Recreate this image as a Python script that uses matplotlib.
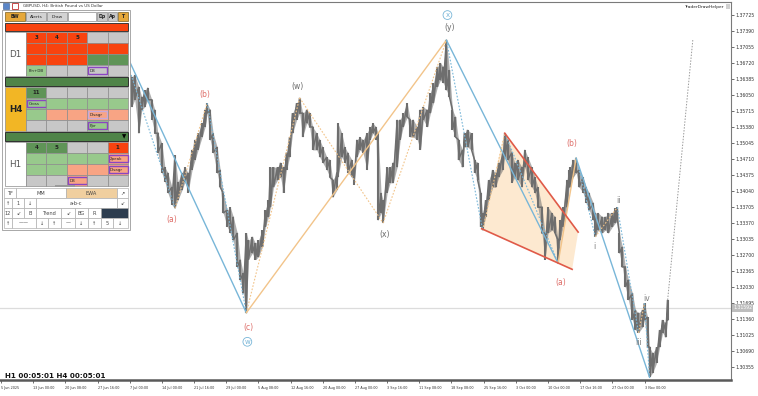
import matplotlib
matplotlib.use("Agg")
import matplotlib.pyplot as plt
from matplotlib.patches import Rectangle, Polygon

# GBPUSD H4 bars: bar index, high, low
bars = [116, 118, 123, 126, 130, 133, 137, 140, 143, 146, 150, 153, 156, 160, 163, 166, 170, 173, 176, 180,
        183, 186, 190, 193, 196, 200, 203, 205, 208, 211, 215, 218, 221, 225, 228, 231, 235, 238, 241, 244,
        246, 250, 253, 256, 260, 263, 266, 268, 271, 275, 278, 281, 284, 287, 290, 294, 297, 300, 304, 307,
        310, 314, 317, 320, 324, 327, 330, 334, 335, 339, 342, 345, 349, 351, 354, 357, 360, 364, 367, 370,
        373, 375, 378, 380, 384, 387, 390, 394, 397, 400, 404, 407, 410, 414, 417, 420, 424, 427, 430, 434,
        437, 440, 443, 446, 449, 452, 455, 459, 461, 464, 468, 471, 474, 477, 479, 482, 485, 489, 492, 495,
        499, 501, 504, 508, 511, 514, 518, 521, 524, 528, 531, 534, 538, 541, 544, 548, 551, 554, 556, 559,
        563, 565, 566, 569, 572, 575, 579, 582, 585, 589, 591, 594, 598, 601, 604, 608, 611, 613, 615, 618,
        621, 624, 628, 631, 634, 638, 640, 643, 645, 648, 652, 655, 658, 661, 663]
highs = [1.3716, 1.3720, 1.3678, 1.3657, 1.3643, 1.3647, 1.3622, 1.3601, 1.3615, 1.3620, 1.3595, 1.3574, 1.3525, 1.3504, 1.3454, 1.3442, 1.3412, 1.3479, 1.3423, 1.3442,
         1.3454, 1.3442, 1.3490, 1.3511, 1.3525, 1.3546, 1.3574, 1.3588, 1.3574, 1.3525, 1.3496, 1.3448, 1.3400, 1.3364, 1.3370, 1.3350, 1.3316, 1.3260, 1.3232, 1.3316,
         1.3301, 1.3308, 1.3295, 1.3301, 1.3322, 1.3364, 1.3385, 1.3454, 1.3454, 1.3454, 1.3463, 1.3454, 1.3484, 1.3517, 1.3567, 1.3588, 1.3599, 1.3567, 1.3574, 1.3567,
         1.3538, 1.3525, 1.3511, 1.3496, 1.3475, 1.3469, 1.3427, 1.3442, 1.3546, 1.3525, 1.3496, 1.3484, 1.3469, 1.3454, 1.3511, 1.3517, 1.3511, 1.3525, 1.3538, 1.3546,
         1.3538, 1.3525, 1.3400, 1.3385, 1.3454, 1.3454, 1.3463, 1.3553, 1.3553, 1.3567, 1.3588, 1.3553, 1.3553, 1.3538, 1.3574, 1.3580, 1.3574, 1.3609, 1.3630, 1.3664,
         1.3672, 1.3664, 1.3720, 1.3657, 1.3574, 1.3559, 1.3511, 1.3490, 1.3525, 1.3532, 1.3525, 1.3469, 1.3463, 1.3400, 1.3358, 1.3385, 1.3427, 1.3448, 1.3442, 1.3463,
         1.3484, 1.3525, 1.3511, 1.3484, 1.3463, 1.3469, 1.3454, 1.3490, 1.3475, 1.3454, 1.3433, 1.3412, 1.3370, 1.3316, 1.3370, 1.3358, 1.3350, 1.3301, 1.3343, 1.3370,
         1.3427, 1.3448, 1.3454, 1.3469, 1.3473, 1.3448, 1.3433, 1.3412, 1.3400, 1.3379, 1.3358, 1.3358, 1.3350, 1.3350, 1.3358, 1.3358, 1.3368, 1.3370, 1.3316, 1.3287,
         1.3245, 1.3218, 1.3190, 1.3155, 1.3149, 1.3155, 1.3169, 1.3140, 1.3077, 1.3065, 1.3077, 1.3113, 1.3134, 1.3128, 1.3176]
lows = [1.3636, 1.3626, 1.3595, 1.3584, 1.3580, 1.3595, 1.3525, 1.3574, 1.3580, 1.3595, 1.3553, 1.3525, 1.3484, 1.3442, 1.3423, 1.3400, 1.3375, 1.3368, 1.3385, 1.3406,
        1.3423, 1.3400, 1.3448, 1.3469, 1.3490, 1.3517, 1.3538, 1.3567, 1.3511, 1.3484, 1.3442, 1.3412, 1.3358, 1.3329, 1.3316, 1.3301, 1.3245, 1.3218, 1.3190, 1.3149,
        1.3260, 1.3274, 1.3260, 1.3266, 1.3287, 1.3329, 1.3350, 1.3370, 1.3412, 1.3427, 1.3433, 1.3400, 1.3448, 1.3475, 1.3525, 1.3553, 1.3567, 1.3517, 1.3546, 1.3538,
        1.3490, 1.3490, 1.3475, 1.3463, 1.3448, 1.3433, 1.3391, 1.3406, 1.3433, 1.3475, 1.3463, 1.3442, 1.3433, 1.3417, 1.3475, 1.3490, 1.3484, 1.3448, 1.3511, 1.3525,
        1.3511, 1.3343, 1.3358, 1.3337, 1.3400, 1.3421, 1.3421, 1.3454, 1.3511, 1.3538, 1.3559, 1.3517, 1.3517, 1.3511, 1.3490, 1.3553, 1.3538, 1.3567, 1.3588, 1.3622,
        1.3636, 1.3630, 1.3615, 1.3601, 1.3532, 1.3517, 1.3469, 1.3454, 1.3496, 1.3496, 1.3490, 1.3442, 1.3427, 1.3329, 1.3322, 1.3350, 1.3385, 1.3412, 1.3412, 1.3433,
        1.3448, 1.3475, 1.3469, 1.3421, 1.3433, 1.3427, 1.3412, 1.3454, 1.3427, 1.3412, 1.3400, 1.3370, 1.3316, 1.3260, 1.3316, 1.3322, 1.3316, 1.3253, 1.3301, 1.3329,
        1.3370, 1.3412, 1.3412, 1.3433, 1.3442, 1.3412, 1.3400, 1.3379, 1.3364, 1.3343, 1.3308, 1.3322, 1.3316, 1.3322, 1.3316, 1.3329, 1.3337, 1.3343, 1.3274, 1.3245,
        1.3203, 1.3176, 1.3134, 1.3113, 1.3107, 1.3119, 1.3134, 1.3077, 1.3015, 1.3023, 1.3044, 1.3077, 1.3107, 1.3098, 1.3134]
last_close = 1.31592

price_ticks = [1.37725, 1.37390, 1.37055, 1.36720, 1.36385, 1.36050, 1.35715, 1.35380, 1.35045, 1.34710, 1.34375,
               1.34040, 1.33705, 1.33370, 1.33035, 1.32700, 1.32365, 1.32030, 1.31695, 1.31360, 1.31025, 1.30690, 1.30355]
date_ticks = [0, 32, 64, 96, 128, 160, 192, 224, 256, 288, 320, 352, 384, 416, 448, 480, 512, 544, 576, 608, 640]
date_labels = ["5 Jun 2025", "13 Jun 00:00", "20 Jun 08:00", "27 Jun 16:00", "7 Jul 00:00", "14 Jul 00:00",
               "21 Jul 16:00", "29 Jul 00:00", "5 Aug 08:00", "12 Aug 16:00", "20 Aug 00:00", "27 Aug 00:00",
               "3 Sep 16:00", "11 Sep 08:00", "18 Sep 08:00", "25 Sep 16:00", "3 Oct 00:00", "10 Oct 00:00",
               "17 Oct 16:00", "27 Oct 00:00", "3 Nov 00:00"]

# wave pivots
pivot_bars = [118, 173, 205, 244, 297, 380, 443, 479, 501, 554, 572, 591, 613, 634, 640, 645]
pivot_prices = [1.3720, 1.3368, 1.3588, 1.3149, 1.3599, 1.3337, 1.3720, 1.3322, 1.3525, 1.3253,
                1.3473, 1.3308, 1.3370, 1.3107, 1.3169, 1.3014]
major_legs = [(0, 3, "b"), (3, 6, "t"), (6, 9, "b"), (9, 10, "t"), (10, 15, "b")]
minor_legs = [(0, 1, "b"), (1, 2, "t"), (2, 3, "b"), (3, 4, "t"), (4, 5, "t"), (5, 6, "t"), (6, 7, "b"),
              (7, 8, "t"), (8, 9, "b"), (10, 11, "b"), (11, 12, "t"), (12, 13, "b"), (13, 14, "t"), (14, 15, "b")]
# (pivot, text, colour key, dx px, dy px)
wave_labels = [(1, "(a)", "r", -3, -11), (2, "(b)", "r", -2, 9), (3, "(c)", "r", 2, -15), (4, "(w)", "g", -2, 11),
               (5, "(x)", "g", 2, -11), (6, "(y)", "g", 3, 13), (9, "(a)", "r", 3, -19), (10, "(b)", "r", -4, 15),
               (11, "i", "l", -1, -10), (12, "ii", "l", 1, 7), (13, "iii", "l", 0, -10), (14, "iv", "l", 2, 5)]
circled = [(3, "w", -29), (6, "x", 25)]
projection_bars = [663, 688]
projection_prices = [1.3176, 1.3720]

# falling wedge
wedge_upper = [(501, 1.3525), (574, 1.3318)]
wedge_lower = [(478, 1.3325), (568, 1.3240)]

BLUE = "#78b6d8"
TAN = "#f2c48a"
PRICE = "#6e6e6e"
colours = {"b": BLUE, "t": TAN, "r": "#de6e69", "g": "#6a6a6a", "l": "#7d7d7d"}

fig = plt.figure(figsize=(7.58, 3.96), dpi=100)
ax = fig.add_axes([0, 16 / 396, 731 / 758, 378 / 396])
ax.set_xlim(-1, 726)
ax.set_ylim(1.30083, 1.37997)

poly = [wedge_lower[0], wedge_upper[0], wedge_upper[1], wedge_lower[1]]
ax.add_patch(Polygon(poly, closed=True, fc="#fde9d0", ec="none", zorder=1))
ax.plot(*zip(*wedge_upper), color="#e05a48", lw=1.2, zorder=4)
ax.plot(*zip(*wedge_lower), color="#e05a48", lw=1.2, zorder=4)

ax.axhline(last_close, color="#dcdcdc", lw=0.9, zorder=1)

# each bar drawn high -> low, then on to the next high: gives the dense bar texture
path_x, path_y = [], []
for b, h, l in zip(bars, highs, lows):
    path_x += [b, b]
    path_y += [h, l]
ax.fill_between(bars, lows, highs, color=PRICE, alpha=0.55, lw=0, zorder=2)
ax.plot(path_x, path_y, color=PRICE, lw=1.1, zorder=2, solid_joinstyle="miter")
ax.vlines(bars, lows, highs, color=PRICE, lw=1.5, zorder=2)

for i, j, c in major_legs:
    ax.plot([pivot_bars[i], pivot_bars[j]], [pivot_prices[i], pivot_prices[j]],
            color=colours[c], lw=1.0, zorder=3)
for i, j, c in minor_legs:
    ax.plot([pivot_bars[i], pivot_bars[j]], [pivot_prices[i], pivot_prices[j]],
            color=colours[c], lw=0.8, ls=(0, (1.5, 1.5)), zorder=3)
ax.plot(projection_bars, projection_prices, color="#9a9a9a", lw=0.7, ls=(0, (1.5, 1.5)), zorder=3)

for p, txt, c, dx, dy in wave_labels:
    ax.annotate(txt, (pivot_bars[p], pivot_prices[p]), xytext=(dx, dy), textcoords="offset pixels",
                ha="center", va="center", fontsize=5.5, color=colours[c], zorder=5)
for p, txt, dy in circled:
    ax.annotate(txt, (pivot_bars[p], pivot_prices[p]), xytext=(1, dy), textcoords="offset pixels",
                ha="center", va="center", fontsize=5, color=BLUE, zorder=5,
                bbox=dict(boxstyle="circle,pad=0.2", fc="white", ec=BLUE, lw=0.6))

# axes styling
ax.yaxis.tick_right()
ax.set_yticks(price_ticks)
ax.set_yticklabels(["%.5f" % v for v in price_ticks])
ax.set_xticks(date_ticks)
ax.set_xticklabels(date_labels)
for lbl in ax.get_xticklabels():
    lbl.set_ha("left")
ax.tick_params(axis="y", length=2, width=0.5, pad=1, labelsize=3.3, colors="#333333")
ax.tick_params(axis="x", length=2, width=0.5, pad=2, labelsize=2.4, colors="#333333")
for side in ["top", "right"]:
    ax.spines[side].set_color("#7a7a7a")
    ax.spines[side].set_linewidth(0.8)
ax.spines["bottom"].set_color("#5a5a5a")
ax.spines["bottom"].set_linewidth(1.8)
ax.spines["left"].set_visible(False)

# last price tag on the scale
ax.annotate("%.5f" % last_close, (1.0, last_close), xycoords=("axes fraction", "data"),
            xytext=(2, 0), textcoords="offset pixels", ha="left", va="center",
            fontsize=3.3, color="white", annotation_clip=False,
            bbox=dict(boxstyle="square,pad=0.25", fc="#bdbdbd", ec="none"))

# overlay in screen pixels for the terminal panel
ov = fig.add_axes([0, 0, 1, 1], zorder=10)
ov.set_xlim(0, 758)
ov.set_ylim(396, 0)
ov.axis("off")
ov.patch.set_alpha(0)


def cell(x0, y0, x1, y1, fc, text="", tc="#222222", fs=3.2, bold=False, ec="#8c8c8c", lw=0.5):
    ov.add_patch(Rectangle((x0, y0), x1 - x0, y1 - y0, fc=fc, ec=ec, lw=lw))
    if text:
        ov.text((x0 + x1) / 2, (y0 + y1) / 2 + 0.3, text, ha="center", va="center", fontsize=fs,
                color=tc, fontweight="bold" if bold else "normal")


RED = "#f8430f"
GRY = "#c7c7c7"
DGR = "#5f9457"
LGR = "#98c98c"
SAL = "#f8a484"
PUR = "#8b45c2"
HDR = "#4f8448"

# title line
ov.add_patch(Rectangle((3, 3), 6, 6, fc="#5a86c8", ec="#3a5a90", lw=0.4))
ov.add_patch(Rectangle((12, 3), 6, 6, fc="#ffffff", ec="#c03030", lw=0.6))
ov.text(23, 6.3, "GBPUSD, H4: British Pound vs US Dollar", fontsize=2.9, color="#333333", va="center")
ov.text(724, 7, "TraderDrawHelper", fontsize=3.2, color="#222222", va="center", ha="right")
ov.add_patch(Rectangle((726, 4), 4, 5, fc="#d0d0d0", ec="none"))

# panel frame
ov.add_patch(Rectangle((2, 10), 128, 220, fc="white", ec="#9a9a9a", lw=0.6))

# buttons
cell(5, 12, 25, 20.5, "#e6a83a", "BW", bold=True, fs=3.4, ec="#7a6020")
cell(26, 12, 46, 20.5, "#d3d3d3", "Alerts", fs=3.2)
cell(47, 12, 67, 20.5, "#d3d3d3", "Draw", fs=3.2)
cell(68, 12, 96, 20.5, "white")
cell(97, 12, 107, 20.5, "#c8c8c8", "Dp", bold=True, fs=3.4)
cell(108, 12, 117, 20.5, "#c8c8c8", "Ap", bold=True, fs=3.4)
cell(118, 12, 128, 20.5, "#e6a83a", "T", bold=True, fs=3.4, ec="#7a6020")

cols = [26, 46.4, 66.8, 87.2, 107.6, 128]

# (fill, text, purple frame)
d1_grid = [
    [(RED, "3", 0), (RED, "4", 0), (RED, "5", 0), (GRY, "", 0), (GRY, "", 0)],
    [(RED, "", 0), (RED, "", 0), (RED, "", 0), (RED, "", 0), (RED, "", 0)],
    [(RED, "", 0), (RED, "", 0), (RED, "", 0), (DGR, "", 0), (DGR, "", 0)],
    [(LGR, "Pin+DB", 0), (GRY, "", 0), (GRY, "", 0), (GRY, "DB", 1), (GRY, "", 0)],
]
h4_grid = [
    [(DGR, "11", 0), (GRY, "", 0), (GRY, "", 0), (GRY, "", 0), (GRY, "", 0)],
    [(LGR, "Cross", 1), (LGR, "", 0), (LGR, "", 0), (LGR, "", 0), (LGR, "", 0)],
    [(LGR, "", 0), (SAL, "", 0), (SAL, "", 0), (SAL, "Disagr", 2), (SAL, "", 0)],
    [(GRY, "", 0), (GRY, "", 0), (GRY, "", 0), (LGR, "Ppr", 1), (GRY, "", 0)],
]
h1_grid = [
    [(DGR, "4", 0), (DGR, "5", 0), (GRY, "", 0), (GRY, "", 0), (RED, "1", 0)],
    [(LGR, "", 0), (LGR, "", 0), (LGR, "", 0), (LGR, "", 0), (SAL, "2peak", 1)],
    [(LGR, "", 0), (LGR, "", 0), (SAL, "", 0), (SAL, "", 0), (SAL, "Disagr", 1)],
    [(GRY, "", 0), (GRY, "", 0), (SAL, "DB", 1), (GRY, "", 0), (GRY, "", 0)],
]


def block(top, grid, label, label_fc, label_tc, bold_label):
    cell(5, top, 26, top + 44, label_fc, label, tc=label_tc, fs=6.3, bold=bold_label)
    for r, row in enumerate(grid):
        y0 = top + r * 11
        for c, (fc, txt, frame) in enumerate(row):
            big = txt.isdigit()
            cell(cols[c], y0, cols[c + 1], y0 + 11, fc)
            if frame:
                ec = PUR if frame == 1 else "#c9a9d8"
                ov.add_patch(Rectangle((cols[c] + 1, y0 + 1.8), 19, 7.6, fc="none", ec=ec, lw=1.0))
            if txt:
                ov.text((cols[c] + cols[c + 1]) / 2 if big else cols[c] + 2.5, y0 + 5.8, txt,
                        ha="center" if big else "left", va="center",
                        fontsize=4 if big else 2.9, color="#222222",
                        fontweight="bold" if big else "normal")


cell(5, 23, 128, 31, RED, ec="#3a3a3a", lw=0.7)
block(32, d1_grid, "D1", "white", "#555555", False)
cell(5, 77, 128, 86, HDR, ec="#2f2f2f", lw=0.7)
block(87, h4_grid, "H4", "#f2b625", "#222222", True)
cell(5, 132, 128, 141, HDR, ec="#2f2f2f", lw=0.7)
ov.text(124.5, 136.5, "\u25bc", fontsize=4, ha="center", va="center", color="black")
block(142, h1_grid, "H1", "white", "#555555", False)

ov.add_patch(Rectangle((55, 185), 20, 2, fc="#9a9a9a", ec="none"))

# control rows
ctrl_rows = [
    (188, [(4, 16, "TF", "white"), (16, 66, "MM", "white"), (66, 117, "EWA", "#f0cf9f"), (117, 128, "\u2197", "white")]),
    (198, [(4, 12, "\u2191", "white"), (12, 24, "1", "white"), (24, 36, "\u2193", "white"),
           (36, 117, "a-b-c", "white"), (117, 128, "\u2199", "white")]),
    (208, [(4, 12, "12", "white"), (12, 24, "\u2199", "white"), (24, 36, "B", "white"), (36, 61, "Trend", "white"),
           (61, 75, "\u2199", "white"), (75, 88, "BG", "white"), (88, 101, "R", "white"), (101, 128, "", "#2d3d4f")]),
    (218, [(4, 12, "\u2191", "white"), (12, 36, "\u2014\u2014", "white"), (36, 48, "\u2193", "white"),
           (48, 61, "\u2191", "white"), (61, 75, "\u2014", "white"), (75, 88, "\u2193", "white"),
           (88, 101, "\u2191", "white"), (101, 113, "5", "white"), (113, 128, "\u2193", "white")]),
]
for y0, items in ctrl_rows:
    for x0, x1, txt, fc in items:
        cell(x0, y0, x1, y0 + 10, fc, txt, tc="#444444", fs=3.6, ec="#b0b0b0", lw=0.5)

ov.text(5, 376, "H1 00:05:01 H4 00:05:01", fontsize=5.1, fontweight="bold", color="#111111", va="center")

fig.savefig("out.png", dpi=100)
